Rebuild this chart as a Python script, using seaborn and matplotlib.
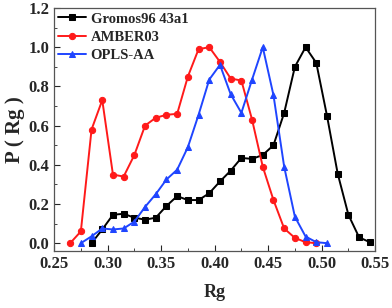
import pandas as pd
import seaborn as sns
import matplotlib.pyplot as plt
from matplotlib.ticker import MultipleLocator

# Rg distributions
gromos_rg = [0.285, 0.295, 0.305, 0.315, 0.325, 0.335, 0.345, 0.355, 0.365, 0.375,
             0.385, 0.395, 0.405, 0.415, 0.425, 0.435, 0.445, 0.455, 0.465, 0.475,
             0.485, 0.495, 0.505, 0.515, 0.525, 0.535, 0.545]
gromos_p = [0.0, 0.07, 0.145, 0.15, 0.13, 0.12, 0.13, 0.19, 0.24, 0.22,
            0.22, 0.255, 0.315, 0.37, 0.435, 0.43, 0.45, 0.50, 0.665, 0.90,
            1.0, 0.92, 0.65, 0.355, 0.145, 0.03, 0.005]

amber_rg = [0.265, 0.275, 0.285, 0.295, 0.305, 0.315, 0.325, 0.335, 0.345, 0.355,
            0.365, 0.375, 0.385, 0.395, 0.405, 0.415, 0.425, 0.435, 0.445, 0.455,
            0.465, 0.475, 0.485, 0.495]
amber_p = [0.0, 0.06, 0.58, 0.73, 0.35, 0.34, 0.45, 0.60, 0.64, 0.655,
           0.66, 0.85, 0.99, 1.0, 0.925, 0.84, 0.83, 0.63, 0.39, 0.22,
           0.075, 0.027, 0.005, 0.0]

opls_rg = [0.275, 0.285, 0.295, 0.305, 0.315, 0.325, 0.335, 0.345, 0.355, 0.365,
           0.375, 0.385, 0.395, 0.405, 0.415, 0.425, 0.435, 0.445, 0.455, 0.465,
           0.475, 0.485, 0.495, 0.505]
opls_p = [0.0, 0.035, 0.075, 0.07, 0.075, 0.11, 0.185, 0.25, 0.325, 0.375,
          0.49, 0.655, 0.835, 0.91, 0.76, 0.665, 0.835, 1.0, 0.755, 0.39,
          0.135, 0.034, 0.005, 0.0]

sns.set_style("ticks")
plt.rcParams['font.family'] = ['Liberation Serif', 'DejaVu Serif']
plt.rcParams['font.weight'] = 'bold'

fig = plt.figure(figsize=(3.92, 3.08), dpi=100)
ax = fig.add_axes([0.138, 0.185, 0.819, 0.789])

series = [
    (gromos_rg, gromos_p, 'Gromos96 43a1', 'black', 's'),
    (amber_rg, amber_p, 'AMBER03', '#ff1a1a', 'o'),
    (opls_rg, opls_p, 'OPLS-AA', '#1f45ff', '^'),
]
for xs, ys, name, col, mk in series:
    sns.lineplot(x=xs, y=ys, ax=ax, color=col, marker=mk, markersize=4.5,
                 markeredgecolor=col, linewidth=1.4, label=name)

ax.set_xlim(0.25, 0.55)
ax.set_ylim(-0.04, 1.2)
ax.xaxis.set_major_locator(MultipleLocator(0.05))
ax.xaxis.set_minor_locator(MultipleLocator(0.025))
ax.yaxis.set_major_locator(MultipleLocator(0.2))
ax.yaxis.set_minor_locator(MultipleLocator(0.1))
ax.set_xticklabels([f'{v:.2f}' for v in ax.get_xticks()])
ax.set_yticklabels([f'{v:.1f}' for v in ax.get_yticks()])
ax.tick_params(which='both', direction='in', labelsize=12)
ax.tick_params(which='major', length=4)
ax.tick_params(which='minor', length=2)
for sp in ax.spines.values():
    sp.set_visible(True)
    sp.set_color('#555555')
    sp.set_linewidth(0.9)

ax.set_xlabel('Rg', fontsize=13, fontweight='bold', labelpad=9)
ax.set_ylabel('P ( Rg )', fontsize=15, fontweight='bold', labelpad=2)

leg = ax.legend(loc='upper left', frameon=False, fontsize=10.5, handlelength=1.9,
                handletextpad=0.3, labelspacing=0.35, borderaxespad=0.0,
                borderpad=0.3)

fig.savefig('out.png', dpi=100)
